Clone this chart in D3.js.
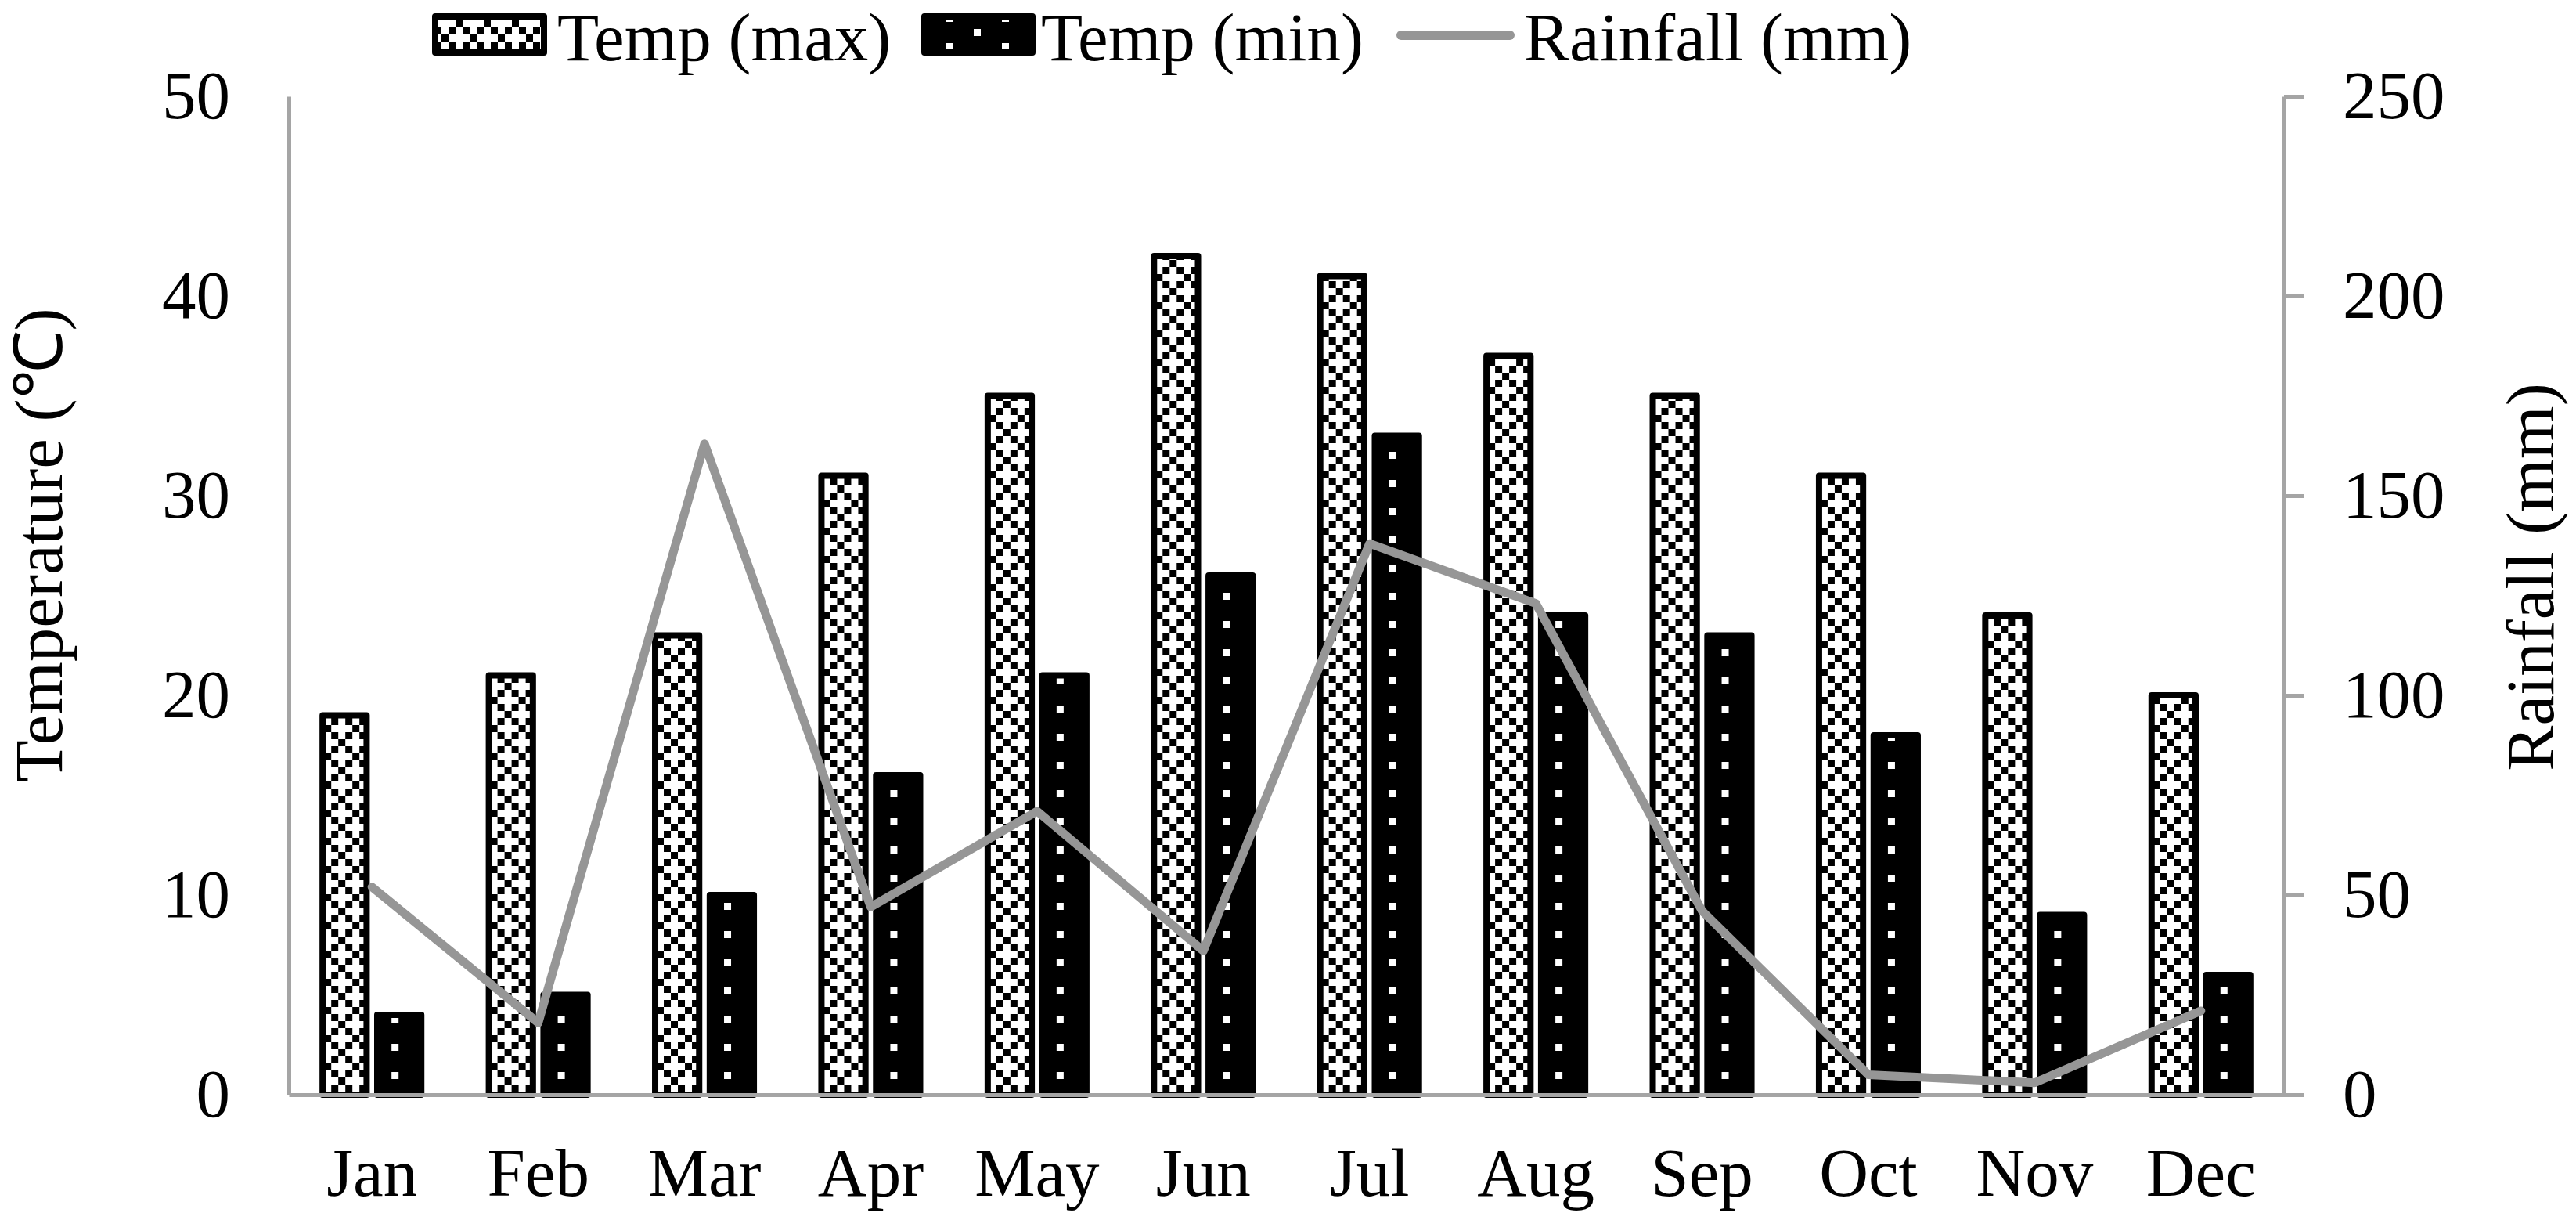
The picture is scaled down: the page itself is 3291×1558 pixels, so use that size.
<!DOCTYPE html>
<html>
<head>
<meta charset="utf-8">
<script src="https://cdn.jsdelivr.net/npm/d3@7"></script>
<style>
  html, body { margin: 0; padding: 0; background: #fff; }
  svg { display: block; }
</style>
</head>
<body>
<div id="chart"></div>
<script>
// data
const months = ["Jan", "Feb", "Mar", "Apr", "May", "Jun", "Jul", "Aug", "Sep", "Oct", "Nov", "Dec"];
const tempMax = [19, 21, 23, 31, 35, 42, 41, 37, 35, 31, 24, 20];
const tempMin = [4, 5, 10, 16, 21, 26, 33, 24, 23, 18, 9, 6];
const rainfall = [52, 18, 163, 47, 71, 36, 138, 123, 46, 5, 3, 21];
const tempTicks = [0, 10, 20, 30, 40, 50];
const rainTicks = [0, 50, 100, 150, 200, 250];
const seriesNames = ["max", "min"];

const width = 3291, height = 1558;
const plot = { left: 369, right: 2918, top: 123, bottom: 1398 };
const axisColor = "#a5a5a5";
const lineColor = "#969696";
const font = "'Liberation Serif', 'Times New Roman', serif";
const fontSize = 87;

const svg = d3.select("#chart").append("svg")
  .attr("width", width)
  .attr("height", height)
  .style("font-family", font);

// patterns
const defs = svg.append("defs");

// diagonal checker for Temp (max)
const pMax = defs.append("pattern")
  .attr("id", "patMax")
  .attr("patternUnits", "userSpaceOnUse")
  .attr("x", 33).attr("y", 26)
  .attr("width", 36).attr("height", 36);
pMax.append("rect").attr("width", 36).attr("height", 36).attr("fill", "#fff");
[[1, 0], [0, 1], [2, 1], [3, 2], [0, 3], [2, 3]].forEach(([c, r]) => {
  pMax.append("rect")
    .attr("x", c * 9).attr("y", r * 9)
    .attr("width", 9).attr("height", 9)
    .attr("fill", "#000");
});

// black with sparse white dots for Temp (min)
const pMin = defs.append("pattern")
  .attr("id", "patMin")
  .attr("patternUnits", "userSpaceOnUse")
  .attr("x", 20).attr("y", 1)
  .attr("width", 72).attr("height", 36);
pMin.append("rect").attr("width", 72).attr("height", 36).attr("fill", "#000");
[[0, 0], [36, 18]].forEach(([x, y]) => {
  pMin.append("rect")
    .attr("x", x).attr("y", y)
    .attr("width", 9).attr("height", 9)
    .attr("fill", "#fff");
});

const fills = { max: "url(#patMax)", min: "url(#patMin)" };

// scales
const x = d3.scaleBand()
  .domain(months)
  .range([plot.left, plot.right])
  .paddingInner(0.369)
  .paddingOuter(0.1845);

const x1 = d3.scaleBand()
  .domain(seriesNames)
  .range([0, x.bandwidth()])
  .paddingInner(0.08);

const yT = d3.scaleLinear().domain([0, 50]).range([plot.bottom, plot.top]);
const yR = d3.scaleLinear().domain([0, 250]).range([plot.bottom, plot.top]);

// bars
const sw = 8;
const barData = months.map((m, i) => ({ month: m, max: tempMax[i], min: tempMin[i] }));

const groups = svg.append("g").selectAll("g")
  .data(barData)
  .join("g")
  .attr("transform", d => `translate(${x(d.month)},0)`);

groups.selectAll("rect")
  .data(d => seriesNames.map(s => ({ s, v: d[s] })))
  .join("rect")
  .attr("x", d => x1(d.s) + sw / 2)
  .attr("y", d => yT(d.v))
  .attr("width", x1.bandwidth() - sw)
  .attr("height", d => yT(0) - yT(d.v))
  .attr("fill", d => fills[d.s])
  .attr("stroke", "#000")
  .attr("stroke-width", sw)
  .attr("stroke-linejoin", "round");

// left axis (no ticks)
const gLeft = svg.append("g")
  .attr("transform", `translate(${plot.left},0)`)
  .call(d3.axisLeft(yT).tickValues(tempTicks).tickSize(0).tickPadding(75));

// right axis (outer ticks)
const gRight = svg.append("g")
  .attr("transform", `translate(${plot.right},0)`)
  .call(d3.axisRight(yR).tickValues(rainTicks).tickSize(26).tickSizeOuter(0).tickPadding(49));

// x axis
const gBottom = svg.append("g")
  .attr("transform", `translate(0,${plot.bottom})`)
  .call(d3.axisBottom(x).tickSize(0).tickSizeOuter(0));

gBottom.selectAll("text").attr("y", 129).attr("dy", 0);

[gLeft, gRight, gBottom].forEach(g => {
  g.select(".domain").attr("stroke", axisColor).attr("stroke-width", 5);
  g.selectAll(".tick line").attr("stroke", axisColor).attr("stroke-width", 5);
  g.selectAll("text")
    .attr("fill", "#000")
    .style("font-family", font)
    .style("font-size", fontSize + "px");
});

// rainfall line
const line = d3.line()
  .x((d, i) => x(months[i]) + x.bandwidth() / 2)
  .y(d => yR(d));

svg.append("path")
  .datum(rainfall)
  .attr("d", line)
  .attr("fill", "none")
  .attr("stroke", lineColor)
  .attr("stroke-width", 11)
  .attr("stroke-linejoin", "round")
  .attr("stroke-linecap", "round");

// axis titles
svg.append("text")
  .attr("transform", "translate(79,696) rotate(-90)")
  .attr("text-anchor", "middle")
  .style("font-size", fontSize + "px")
  .text("Temperature (℃)");

svg.append("text")
  .attr("transform", "translate(3262,737) rotate(-90)")
  .attr("text-anchor", "middle")
  .style("font-size", fontSize + "px")
  .text("Rainfall (mm)");

// legend
const legend = svg.append("g");
const lgY = 21, lgH = 46, lgBase = 77;

legend.append("rect")
  .attr("x", 556).attr("y", lgY)
  .attr("width", 139).attr("height", lgH)
  .attr("fill", fills.max)
  .attr("stroke", "#000").attr("stroke-width", sw)
  .attr("stroke-linejoin", "round");
legend.append("text")
  .attr("x", 712).attr("y", lgBase)
  .style("font-size", fontSize + "px")
  .text("Temp (max)");

legend.append("rect")
  .attr("x", 1181).attr("y", lgY)
  .attr("width", 138).attr("height", lgH)
  .attr("fill", fills.min)
  .attr("stroke", "#000").attr("stroke-width", sw)
  .attr("stroke-linejoin", "round");
legend.append("text")
  .attr("x", 1330).attr("y", lgBase)
  .style("font-size", fontSize + "px")
  .text("Temp (min)");

legend.append("line")
  .attr("x1", 1790).attr("x2", 1929)
  .attr("y1", 45).attr("y2", 45)
  .attr("stroke", lineColor)
  .attr("stroke-width", 12)
  .attr("stroke-linecap", "round");
legend.append("text")
  .attr("x", 1947).attr("y", lgBase)
  .style("font-size", fontSize + "px")
  .text("Rainfall (mm)");
</script>
</body>
</html>
